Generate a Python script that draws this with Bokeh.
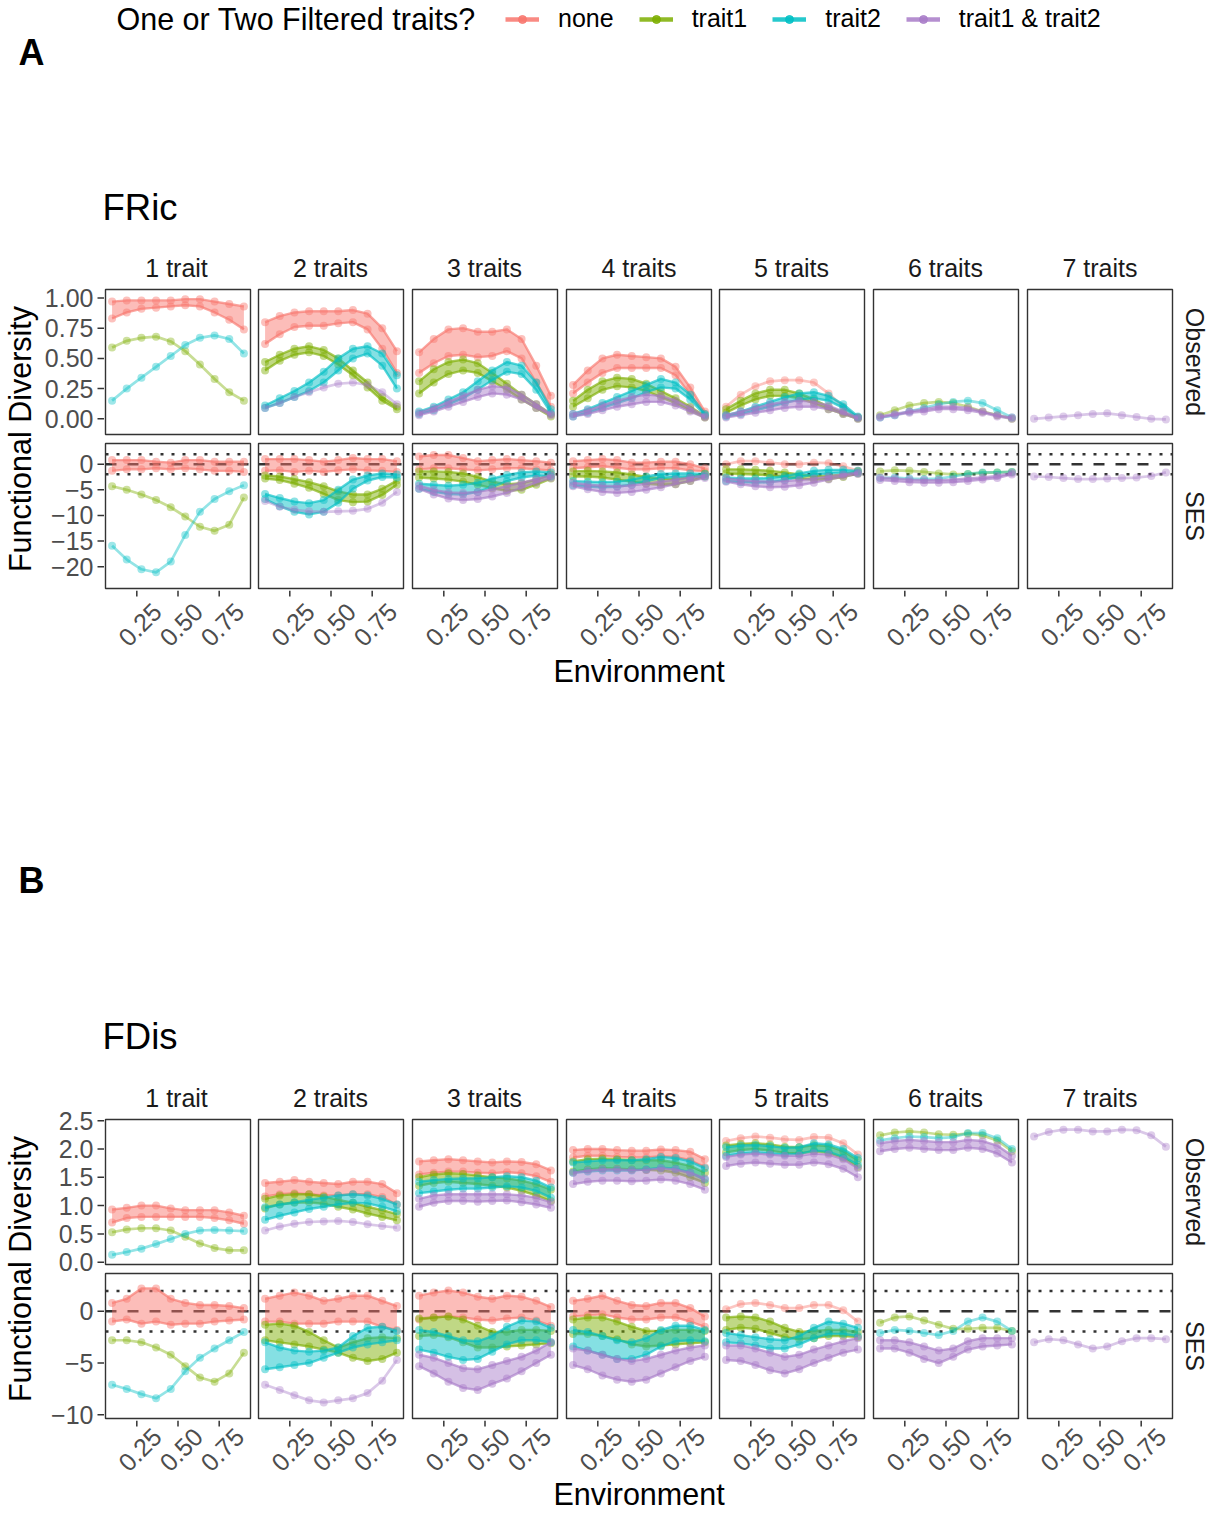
import math
from bokeh.plotting import figure
from bokeh.models import Range1d, Legend, LegendItem, Span
from bokeh.layouts import row, column
from bokeh.embed import file_html
from bokeh.resources import INLINE
from bokeh.core.properties import value

# ---------------------------------------------------------------- data
ENV = [0.100, 0.189, 0.278, 0.367, 0.456, 0.544, 0.633, 0.722, 0.811, 0.900]
N_TRAITS = [1, 2, 3, 4, 5, 6, 7]
FACET_LABELS = ["1 trait", "2 traits", "3 traits", "4 traits", "5 traits", "6 traits", "7 traits"]
GROUPS = ["none", "trait1", "trait2", "trait1 & trait2"]
GROUP_COLORS = ["#F8766D", "#7CAE00", "#00BFC4", "#A87BC8"]
ROW_LABELS = ["Observed", "SES"]
LEGEND_TITLE = "One or Two Filtered traits?"
PANEL_TAGS = ["A", "B"]
METRIC_TITLES = ["FRic", "FDis"]
X_TITLE = "Environment"
Y_TITLE = "Functional Diversity"
X_TICKS = [0.25, 0.5, 0.75]
X_TICK_LABELS = ["0.25", "0.50", "0.75"]
SES_REF_ZERO = [0.0]
SES_REF_BOUNDS = [-1.96, 1.96]
FRIC_OBS_TICKS = [0, 0.25, 0.5, 0.75, 1]
FRIC_OBS_TICK_LABELS = ["0.00", "0.25", "0.50", "0.75", "1.00"]
FRIC_SES_TICKS = [0, -5, -10, -15, -20]
FRIC_SES_TICK_LABELS = ["0", "\u22125", "\u221210", "\u221215", "\u221220"]
FDIS_OBS_TICKS = [0, 0.5, 1, 1.5, 2, 2.5]
FDIS_OBS_TICK_LABELS = ["0.0", "0.5", "1.0", "1.5", "2.0", "2.5"]
FDIS_SES_TICKS = [0, -5, -10]
FDIS_SES_TICK_LABELS = ["0", "\u22125", "\u221210"]
X_LIM = (0.06, 0.94)
FRIC_OBS_YLIM = (-0.13, 1.07)
FRIC_SES_YLIM = (-24.25, 4.04)
FDIS_OBS_YLIM = (-0.04, 2.52)
FDIS_SES_YLIM = (-10.35, 3.64)

# FRic, observed (LO = lower envelope / single line, HI = upper envelope)
FRIC_OBS_NONE_LO = {
    1: [0.83, 0.88, 0.91, 0.92, 0.93, 0.94, 0.93, 0.88, 0.82, 0.74],
    2: [0.62, 0.70, 0.76, 0.77, 0.77, 0.79, 0.80, 0.74, 0.58, 0.38],
    3: [0.38, 0.46, 0.52, 0.53, 0.51, 0.52, 0.56, 0.50, 0.30, 0.10],
    4: [0.21, 0.30, 0.38, 0.42, 0.42, 0.42, 0.42, 0.36, 0.20, 0.04],
    5: [0.10, 0.20, 0.27, 0.31, 0.32, 0.32, 0.30, 0.21, 0.10, 0.01],
}
FRIC_OBS_NONE_HI = {
    1: [0.97, 0.98, 0.98, 0.98, 0.98, 0.99, 0.99, 0.97, 0.95, 0.93],
    2: [0.80, 0.85, 0.88, 0.89, 0.89, 0.89, 0.90, 0.87, 0.75, 0.56],
    3: [0.55, 0.66, 0.74, 0.75, 0.72, 0.72, 0.74, 0.66, 0.44, 0.19],
    4: [0.28, 0.40, 0.50, 0.53, 0.52, 0.51, 0.50, 0.43, 0.26, 0.06],
}
FRIC_OBS_T1_LO = {
    1: [0.59, 0.645, 0.67, 0.68, 0.64, 0.56, 0.45, 0.33, 0.22, 0.15],
    2: [0.40, 0.48, 0.53, 0.55, 0.52, 0.45, 0.36, 0.26, 0.15, 0.08],
    3: [0.21, 0.30, 0.37, 0.40, 0.38, 0.31, 0.24, 0.16, 0.09, 0.02],
    4: [0.10, 0.17, 0.24, 0.27, 0.26, 0.23, 0.18, 0.13, 0.07, 0.01],
    5: [0.05, 0.11, 0.16, 0.19, 0.19, 0.17, 0.13, 0.08, 0.04, 0.00],
    6: [0.03, 0.07, 0.11, 0.13, 0.14, 0.13, 0.10, 0.06, 0.03, 0.00],
}
FRIC_OBS_T1_HI = {
    2: [0.47, 0.53, 0.58, 0.60, 0.57, 0.50, 0.40, 0.30, 0.18, 0.10],
    3: [0.31, 0.41, 0.47, 0.49, 0.46, 0.38, 0.29, 0.20, 0.12, 0.04],
    4: [0.15, 0.24, 0.31, 0.34, 0.33, 0.29, 0.23, 0.17, 0.10, 0.02],
    5: [0.08, 0.15, 0.21, 0.24, 0.24, 0.21, 0.16, 0.10, 0.05, 0.01],
}
FRIC_OBS_T2_LO = {
    1: [0.15, 0.25, 0.34, 0.43, 0.52, 0.61, 0.67, 0.69, 0.66, 0.54],
    2: [0.09, 0.13, 0.18, 0.23, 0.30, 0.40, 0.50, 0.54, 0.44, 0.25],
    3: [0.04, 0.07, 0.12, 0.17, 0.24, 0.32, 0.39, 0.37, 0.24, 0.05],
    4: [0.02, 0.05, 0.09, 0.13, 0.17, 0.22, 0.26, 0.25, 0.16, 0.03],
    5: [0.02, 0.04, 0.07, 0.10, 0.13, 0.16, 0.17, 0.15, 0.09, 0.01],
    6: [0.01, 0.03, 0.06, 0.09, 0.12, 0.14, 0.15, 0.13, 0.07, 0.01],
}
FRIC_OBS_T2_HI = {
    2: [0.11, 0.17, 0.23, 0.30, 0.39, 0.50, 0.58, 0.60, 0.54, 0.36],
    3: [0.06, 0.10, 0.16, 0.22, 0.31, 0.40, 0.47, 0.44, 0.30, 0.08],
    4: [0.04, 0.08, 0.13, 0.18, 0.23, 0.28, 0.33, 0.30, 0.20, 0.04],
    5: [0.03, 0.06, 0.10, 0.14, 0.18, 0.21, 0.22, 0.19, 0.12, 0.02],
}
FRIC_OBS_BOTH_LO = {
    2: [0.09, 0.13, 0.18, 0.22, 0.26, 0.29, 0.30, 0.28, 0.22, 0.12],
    3: [0.03, 0.06, 0.10, 0.14, 0.18, 0.21, 0.20, 0.16, 0.09, 0.03],
    4: [0.02, 0.04, 0.07, 0.10, 0.12, 0.14, 0.14, 0.11, 0.06, 0.01],
    5: [0.01, 0.03, 0.05, 0.07, 0.09, 0.10, 0.10, 0.08, 0.04, 0.00],
    6: [0.01, 0.03, 0.05, 0.06, 0.08, 0.08, 0.07, 0.05, 0.02, 0.00],
    7: [0.00, 0.01, 0.02, 0.03, 0.04, 0.045, 0.03, 0.015, 0.00, -0.005],
}
FRIC_OBS_BOTH_HI = {
    3: [0.05, 0.09, 0.14, 0.19, 0.24, 0.27, 0.26, 0.20, 0.12, 0.04],
    4: [0.04, 0.07, 0.11, 0.15, 0.18, 0.20, 0.19, 0.15, 0.09, 0.02],
    5: [0.03, 0.06, 0.09, 0.12, 0.14, 0.15, 0.14, 0.11, 0.06, 0.01],
    6: [0.02, 0.04, 0.06, 0.08, 0.10, 0.10, 0.09, 0.06, 0.03, 0.01],
}

# FRic, SES
FRIC_SES_NONE_LO = {
    1: [-1.3, -1.0, -1.0, -0.8, -1.0, -0.8, -1.0, -1.3, -1.3, -1.5],
    2: [-1.3, -1.2, -1.5, -1.3, -1.5, -1.2, -1.0, -1.2, -1.3, -1.5],
    3: [-1.0, -0.8, -0.8, -1.0, -1.2, -1.0, -0.8, -0.8, -1.0, -1.2],
    4: [-0.8, -0.6, -0.4, -0.7, -1.0, -1.0, -0.8, -0.8, -1.2, -1.4],
    5: [0.0, 0.6, 0.6, 0.3, 0.0, 0.0, 0.3, 0.2, -0.4, -1.3],
}
FRIC_SES_NONE_HI = {
    1: [0.8, 0.8, 0.8, 0.5, 0.3, 0.8, 0.8, 0.5, 0.5, 0.5],
    2: [1.0, 1.0, 1.0, 0.8, 0.5, 0.8, 1.2, 1.0, 1.0, 0.6],
    3: [1.5, 1.8, 1.8, 1.2, 0.6, 0.8, 1.0, 0.8, 0.6, 0.3],
    4: [0.6, 0.8, 1.0, 0.8, 0.3, 0.3, 0.5, 0.5, 0.0, -0.8],
}
FRIC_SES_T1_LO = {
    1: [-4.3, -5.0, -5.9, -7.0, -8.4, -10.2, -12.2, -13.0, -11.8, -6.5],
    2: [-2.8, -3.1, -3.8, -4.6, -5.8, -7.0, -7.4, -7.3, -6.0, -4.0],
    3: [-2.6, -2.8, -3.0, -3.4, -4.0, -4.7, -5.2, -5.0, -4.0, -2.8],
    4: [-2.4, -2.4, -2.6, -3.0, -3.4, -3.8, -4.0, -3.9, -3.3, -2.4],
    5: [-1.8, -1.9, -2.0, -2.2, -2.5, -2.8, -3.0, -2.9, -2.5, -1.8],
    6: [-1.4, -1.2, -1.3, -1.5, -1.8, -2.0, -1.9, -1.7, -1.6, -1.5],
}
FRIC_SES_T1_HI = {
    2: [-2.2, -2.4, -2.9, -3.5, -4.3, -5.3, -5.9, -5.9, -4.8, -3.2],
    3: [-1.4, -1.4, -1.5, -1.8, -2.5, -3.4, -3.9, -3.7, -3.0, -2.0],
    4: [-1.4, -1.3, -1.4, -1.6, -2.0, -2.5, -2.8, -2.9, -2.5, -1.8],
    5: [-1.0, -1.0, -1.1, -1.3, -1.6, -2.0, -2.3, -2.3, -2.0, -1.4],
}
FRIC_SES_T2_LO = {
    1: [-15.9, -18.6, -20.5, -21.1, -19.0, -13.8, -9.3, -6.8, -5.3, -4.1],
    2: [-6.8, -8.2, -9.3, -9.8, -9.3, -7.5, -4.8, -3.2, -2.5, -2.6],
    3: [-4.8, -5.4, -5.8, -5.9, -5.4, -4.4, -3.3, -2.6, -2.2, -2.4],
    4: [-4.1, -4.4, -4.5, -4.4, -4.0, -3.3, -2.7, -2.5, -2.4, -2.4],
    5: [-3.3, -3.5, -3.6, -3.5, -3.1, -2.5, -2.0, -1.8, -1.6, -1.7],
    6: [-2.7, -2.6, -2.8, -2.9, -2.8, -2.4, -1.9, -1.6, -1.6, -1.5],
}
FRIC_SES_T2_HI = {
    2: [-5.8, -6.6, -7.3, -7.6, -7.0, -5.0, -3.0, -2.2, -1.8, -2.0],
    3: [-3.8, -4.0, -4.2, -4.0, -3.6, -2.8, -2.1, -1.6, -1.4, -1.6],
    4: [-3.3, -3.4, -3.5, -3.4, -3.0, -2.4, -1.9, -1.8, -1.8, -1.9],
    5: [-2.6, -2.8, -2.8, -2.7, -2.3, -1.8, -1.3, -1.1, -1.1, -1.3],
}
FRIC_SES_BOTH_LO = {
    2: [-7.2, -8.3, -8.9, -9.2, -9.3, -9.2, -9.1, -8.7, -7.5, -5.4],
    3: [-4.8, -5.9, -6.7, -7.0, -6.8, -6.3, -5.6, -4.6, -3.6, -2.7],
    4: [-4.3, -4.9, -5.4, -5.6, -5.4, -5.0, -4.5, -3.9, -3.3, -2.7],
    5: [-3.4, -3.9, -4.3, -4.5, -4.4, -4.1, -3.6, -3.0, -2.4, -1.9],
    6: [-3.1, -3.3, -3.5, -3.6, -3.6, -3.5, -3.3, -3.0, -2.7, -2.0],
    7: [-2.4, -2.5, -2.7, -2.9, -2.9, -2.8, -2.7, -2.6, -2.3, -1.6],
}
FRIC_SES_BOTH_HI = {
    3: [-4.2, -5.0, -5.5, -5.6, -5.4, -4.9, -4.3, -3.6, -2.9, -2.2],
    4: [-3.6, -4.0, -4.2, -4.3, -4.1, -3.8, -3.4, -3.0, -2.6, -2.2],
    5: [-2.8, -3.1, -3.3, -3.4, -3.3, -3.1, -2.8, -2.4, -2.0, -1.6],
    6: [-2.6, -2.8, -3.0, -3.1, -3.1, -3.0, -2.8, -2.6, -2.3, -1.7],
}

# FDis, observed
FDIS_OBS_NONE_LO = {
    1: [0.70, 0.78, 0.80, 0.80, 0.80, 0.80, 0.80, 0.78, 0.74, 0.68],
    2: [1.16, 1.20, 1.22, 1.20, 1.18, 1.18, 1.20, 1.20, 1.15, 1.02],
    3: [1.55, 1.58, 1.60, 1.60, 1.58, 1.57, 1.59, 1.57, 1.52, 1.42],
    4: [1.85, 1.88, 1.88, 1.86, 1.85, 1.85, 1.87, 1.86, 1.80, 1.68],
    5: [2.14, 2.19, 2.22, 2.20, 2.17, 2.16, 2.21, 2.20, 2.10, 1.90],
}
FDIS_OBS_NONE_HI = {
    1: [0.93, 0.96, 1.00, 1.00, 0.95, 0.92, 0.92, 0.92, 0.88, 0.82],
    2: [1.40, 1.42, 1.45, 1.42, 1.40, 1.38, 1.42, 1.42, 1.38, 1.22],
    3: [1.78, 1.80, 1.82, 1.80, 1.78, 1.76, 1.78, 1.77, 1.73, 1.62],
    4: [1.98, 2.00, 2.00, 1.98, 1.97, 1.97, 1.99, 1.98, 1.95, 1.82],
}
FDIS_OBS_T1_LO = {
    1: [0.53, 0.58, 0.60, 0.60, 0.56, 0.45, 0.33, 0.25, 0.21, 0.21],
    2: [0.95, 1.02, 1.05, 1.06, 1.03, 0.98, 0.93, 0.86, 0.80, 0.74],
    3: [1.35, 1.40, 1.42, 1.40, 1.38, 1.35, 1.32, 1.26, 1.18, 1.08],
    4: [1.60, 1.64, 1.66, 1.65, 1.64, 1.63, 1.62, 1.58, 1.50, 1.40],
    5: [1.94, 1.98, 2.00, 1.97, 1.93, 1.92, 1.96, 1.93, 1.84, 1.68],
    6: [2.24, 2.29, 2.31, 2.29, 2.26, 2.25, 2.27, 2.24, 2.15, 1.96],
}
FDIS_OBS_T1_HI = {
    2: [1.12, 1.18, 1.20, 1.20, 1.16, 1.10, 1.05, 0.98, 0.92, 0.85],
    3: [1.50, 1.55, 1.57, 1.56, 1.53, 1.50, 1.48, 1.44, 1.38, 1.28],
    4: [1.78, 1.82, 1.83, 1.82, 1.80, 1.80, 1.80, 1.76, 1.70, 1.58],
    5: [2.06, 2.09, 2.10, 2.08, 2.04, 2.03, 2.07, 2.05, 1.96, 1.80],
}
FDIS_OBS_T2_LO = {
    1: [0.13, 0.18, 0.24, 0.32, 0.41, 0.50, 0.56, 0.57, 0.56, 0.55],
    2: [0.75, 0.82, 0.88, 0.94, 0.98, 1.02, 1.05, 1.04, 0.98, 0.90],
    3: [1.22, 1.25, 1.28, 1.30, 1.30, 1.32, 1.34, 1.32, 1.26, 1.14],
    4: [1.58, 1.60, 1.62, 1.62, 1.62, 1.64, 1.67, 1.65, 1.58, 1.46],
    5: [1.88, 1.92, 1.94, 1.92, 1.90, 1.91, 1.97, 1.95, 1.86, 1.72],
    6: [2.15, 2.19, 2.22, 2.21, 2.19, 2.21, 2.28, 2.28, 2.19, 2.00],
}
FDIS_OBS_T2_HI = {
    2: [0.97, 1.02, 1.06, 1.10, 1.14, 1.18, 1.20, 1.18, 1.12, 1.02],
    3: [1.42, 1.45, 1.47, 1.48, 1.48, 1.50, 1.52, 1.50, 1.44, 1.32],
    4: [1.76, 1.78, 1.80, 1.80, 1.80, 1.82, 1.86, 1.84, 1.78, 1.66],
    5: [2.03, 2.06, 2.07, 2.05, 2.02, 2.03, 2.10, 2.08, 2.00, 1.84],
}
FDIS_OBS_BOTH_LO = {
    2: [0.56, 0.63, 0.68, 0.71, 0.72, 0.73, 0.71, 0.67, 0.64, 0.61],
    3: [0.98, 1.05, 1.08, 1.08, 1.07, 1.08, 1.09, 1.06, 1.02, 0.96],
    4: [1.38, 1.42, 1.44, 1.44, 1.43, 1.44, 1.46, 1.44, 1.38, 1.28],
    5: [1.70, 1.74, 1.76, 1.74, 1.72, 1.72, 1.76, 1.73, 1.65, 1.50],
    6: [1.96, 2.00, 2.02, 2.00, 1.98, 1.98, 2.02, 2.00, 1.92, 1.76],
    7: [2.22, 2.30, 2.34, 2.34, 2.31, 2.31, 2.34, 2.33, 2.24, 2.04],
}
FDIS_OBS_BOTH_HI = {
    3: [1.12, 1.18, 1.20, 1.20, 1.20, 1.20, 1.20, 1.18, 1.14, 1.06],
    4: [1.58, 1.62, 1.64, 1.64, 1.63, 1.63, 1.66, 1.64, 1.58, 1.48],
    5: [1.86, 1.90, 1.92, 1.90, 1.88, 1.88, 1.92, 1.90, 1.82, 1.66],
    6: [2.10, 2.14, 2.16, 2.14, 2.12, 2.12, 2.16, 2.14, 2.06, 1.88],
}

# FDis, SES
FDIS_SES_NONE_LO = {
    1: [-1.0, -0.8, -1.2, -1.0, -1.3, -1.2, -1.2, -1.0, -0.9, -0.8],
    2: [-1.0, -1.0, -1.2, -1.2, -1.2, -1.0, -1.0, -1.0, -1.5, -1.8],
    3: [-0.8, -0.6, -0.5, -0.6, -0.8, -0.9, -0.7, -0.6, -0.9, -1.4],
    4: [-0.5, -0.4, -0.3, -0.6, -0.8, -0.8, -0.6, -0.6, -1.0, -1.5],
    5: [0.2, 0.7, 0.8, 0.6, 0.3, 0.3, 0.6, 0.6, 0.1, -1.0],
}
FDIS_SES_NONE_HI = {
    1: [0.8, 1.2, 2.2, 2.2, 1.2, 0.8, 0.6, 0.6, 0.5, 0.3],
    2: [1.2, 1.5, 1.8, 1.5, 1.0, 1.2, 1.5, 1.5, 1.0, 0.5],
    3: [1.5, 1.8, 2.0, 1.8, 1.4, 1.2, 1.5, 1.4, 1.0, 0.4],
    4: [1.0, 1.2, 1.5, 1.0, 0.6, 0.5, 0.8, 0.8, 0.3, -0.5],
}
FDIS_SES_T1_LO = {
    1: [-2.8, -2.8, -3.0, -3.5, -4.2, -5.3, -6.4, -6.8, -6.0, -4.0],
    2: [-2.8, -3.0, -3.2, -3.4, -3.7, -4.0, -4.5, -4.8, -4.6, -4.0],
    3: [-2.4, -2.3, -2.5, -3.0, -3.5, -3.5, -3.4, -3.3, -3.2, -3.1],
    4: [-2.2, -2.2, -2.4, -2.7, -3.2, -3.4, -3.3, -3.2, -3.1, -3.0],
    5: [-1.8, -1.6, -1.7, -2.1, -2.5, -2.7, -2.6, -2.4, -2.4, -2.5],
    6: [-1.1, -0.6, -0.5, -0.9, -1.3, -1.7, -1.7, -1.6, -1.6, -1.9],
}
FDIS_SES_T1_HI = {
    2: [-1.3, -1.2, -1.4, -2.0, -2.8, -3.5, -3.0, -2.6, -2.5, -2.6],
    3: [-0.7, -0.6, -0.5, -0.8, -1.4, -2.0, -2.0, -1.8, -1.8, -1.9],
    4: [-0.8, -0.6, -0.6, -1.0, -1.5, -1.9, -1.9, -1.8, -1.8, -1.9],
    5: [-0.6, -0.5, -0.6, -1.0, -1.6, -2.0, -1.9, -1.8, -1.8, -2.0],
}
FDIS_SES_T2_LO = {
    1: [-7.1, -7.5, -8.0, -8.4, -7.5, -5.8, -4.5, -3.6, -2.8, -2.0],
    2: [-5.6, -5.4, -5.2, -5.0, -4.5, -4.0, -3.5, -3.2, -3.0, -2.8],
    3: [-3.7, -4.0, -4.4, -4.7, -4.6, -3.9, -3.2, -2.8, -2.8, -3.0],
    4: [-3.4, -3.8, -4.2, -4.6, -4.6, -4.2, -3.4, -2.9, -2.8, -2.9],
    5: [-3.0, -3.1, -3.3, -3.6, -3.6, -3.2, -2.6, -2.2, -2.2, -2.4],
    6: [-2.1, -1.8, -1.9, -2.1, -2.3, -1.9, -1.0, -0.6, -1.0, -1.9],
}
FDIS_SES_T2_HI = {
    2: [-3.0, -3.5, -3.8, -3.9, -3.8, -3.5, -2.4, -1.6, -1.5, -1.9],
    3: [-1.8, -2.0, -2.4, -2.8, -2.9, -2.4, -1.5, -0.9, -1.0, -1.6],
    4: [-1.8, -2.0, -2.4, -2.8, -3.0, -2.6, -1.8, -1.4, -1.4, -1.8],
    5: [-2.1, -2.3, -2.5, -2.7, -2.8, -2.4, -1.6, -1.0, -1.2, -1.6],
}
FDIS_SES_BOTH_LO = {
    2: [-7.1, -7.6, -8.1, -8.6, -8.8, -8.6, -8.4, -7.9, -6.7, -4.7],
    3: [-5.3, -6.0, -6.8, -7.4, -7.6, -7.0, -6.5, -5.8, -5.0, -4.2],
    4: [-5.2, -5.6, -6.2, -6.6, -6.8, -6.6, -6.0, -5.4, -4.8, -4.4],
    5: [-4.7, -4.8, -5.2, -5.7, -6.0, -5.6, -5.0, -4.5, -4.0, -3.7],
    6: [-3.6, -3.6, -4.0, -4.6, -5.0, -4.4, -3.7, -3.4, -3.3, -3.2],
    7: [-3.0, -2.7, -2.8, -3.2, -3.6, -3.4, -2.9, -2.6, -2.6, -2.7],
}
FDIS_SES_BOTH_HI = {
    3: [-4.2, -4.5, -5.0, -5.5, -5.6, -5.2, -4.8, -4.4, -3.8, -3.0],
    4: [-3.6, -3.8, -4.2, -4.6, -4.8, -4.6, -4.2, -3.8, -3.5, -3.3],
    5: [-3.3, -3.3, -3.6, -4.0, -4.4, -4.2, -3.7, -3.3, -2.9, -2.6],
    6: [-2.8, -2.8, -3.0, -3.4, -3.8, -3.6, -2.9, -2.6, -2.6, -2.6],
}

# ------------------------------------------------------------- assembly
SERIES = {
    ("fric", "obs"): ([FRIC_OBS_NONE_LO, FRIC_OBS_T1_LO, FRIC_OBS_T2_LO, FRIC_OBS_BOTH_LO],
                      [FRIC_OBS_NONE_HI, FRIC_OBS_T1_HI, FRIC_OBS_T2_HI, FRIC_OBS_BOTH_HI]),
    ("fric", "ses"): ([FRIC_SES_NONE_LO, FRIC_SES_T1_LO, FRIC_SES_T2_LO, FRIC_SES_BOTH_LO],
                      [FRIC_SES_NONE_HI, FRIC_SES_T1_HI, FRIC_SES_T2_HI, FRIC_SES_BOTH_HI]),
    ("fdis", "obs"): ([FDIS_OBS_NONE_LO, FDIS_OBS_T1_LO, FDIS_OBS_T2_LO, FDIS_OBS_BOTH_LO],
                      [FDIS_OBS_NONE_HI, FDIS_OBS_T1_HI, FDIS_OBS_T2_HI, FDIS_OBS_BOTH_HI]),
    ("fdis", "ses"): ([FDIS_SES_NONE_LO, FDIS_SES_T1_LO, FDIS_SES_T2_LO, FDIS_SES_BOTH_LO],
                      [FDIS_SES_NONE_HI, FDIS_SES_T1_HI, FDIS_SES_T2_HI, FDIS_SES_BOTH_HI]),
}
YLIMS = {("fric", "obs"): FRIC_OBS_YLIM, ("fric", "ses"): FRIC_SES_YLIM,
         ("fdis", "obs"): FDIS_OBS_YLIM, ("fdis", "ses"): FDIS_SES_YLIM}
YTICKS = {("fric", "obs"): (FRIC_OBS_TICKS, FRIC_OBS_TICK_LABELS),
          ("fric", "ses"): (FRIC_SES_TICKS, FRIC_SES_TICK_LABELS),
          ("fdis", "obs"): (FDIS_OBS_TICKS, FDIS_OBS_TICK_LABELS),
          ("fdis", "ses"): (FDIS_SES_TICKS, FDIS_SES_TICK_LABELS)}

# ------------------------------------------------------------- layout
FONT = "Liberation Sans"
PANEL = 145
LEFT_B = [1, 4, 4, 4, 4, 4, 4]
RIGHT_B = [4, 5, 5, 4, 5, 5, 4]
AXIS_W = 104          # y title + y tick labels + ticks
STRIP_W = 34
STRIP_H = 35
OBS_H = 153           # 4 + 145 + 4
SES_H = 152           # 5 + 145 + 2
OBS_TOP = STRIP_H + 4                 # frame top of observed row inside a block
SES_TOP = STRIP_H + OBS_H + 5         # frame top of SES row inside a block
TOTAL_W = 1210
BORDER = "#333333"
TICK_COLOR = "#4D4D4D"
STRIP_COLOR = "#1A1A1A"


def plain(w, h):
    p = figure(width=w, height=h, x_range=Range1d(0, w), y_range=Range1d(h, 0),
               output_backend="svg", toolbar_location=None,
               x_axis_type=None, y_axis_type=None, min_border=0)
    p.outline_line_color = None
    p.background_fill_color = "white"
    p.border_fill_color = "white"
    return p


def txt(p, x, y, s, size, align="left", angle=0.0, bold=False, color="black"):
    p.text(x=[x], y=[y], text=[s], text_font=value(FONT),
           text_font_size=value(f"{size}px"), text_align=align,
           text_baseline="middle", angle=angle, text_color=color,
           text_font_style="bold" if bold else "normal")


def facet(metric, kind, idx, xr):
    k = N_TRAITS[idx]
    is_ses = kind == "ses"
    lb, rb = LEFT_B[idx], RIGHT_B[idx]
    p = figure(width=PANEL + lb + rb, height=SES_H if is_ses else OBS_H,
               x_range=xr, y_range=Range1d(*YLIMS[(metric, kind)]),
               output_backend="svg", toolbar_location=None,
               x_axis_type=None, y_axis_type=None,
               min_border_left=lb, min_border_right=rb,
               min_border_top=5 if is_ses else 4,
               min_border_bottom=2 if is_ses else 4)
    p.outline_line_color = BORDER
    p.outline_line_width = 1.4
    p.background_fill_color = "white"
    p.border_fill_color = "white"
    if is_ses:
        for v in SES_REF_BOUNDS:
            p.add_layout(Span(location=v, dimension="width", line_color=BORDER,
                              line_width=2.5, line_dash="3 8", level="underlay"))
        for v in SES_REF_ZERO:
            p.add_layout(Span(location=v, dimension="width", line_color=BORDER,
                              line_width=2.4, line_dash="11 11", level="underlay"))
    los, his = SERIES[(metric, kind)]
    for gi in range(len(GROUPS)):
        lo = los[gi].get(k)
        if lo is None:
            continue
        hi = his[gi].get(k)
        c = GROUP_COLORS[gi]
        if hi is not None:
            p.varea(x=ENV, y1=lo, y2=hi, fill_color=c, fill_alpha=0.48)
            p.line(ENV, lo, line_color=c, line_width=2.4, line_alpha=0.65)
            p.line(ENV, hi, line_color=c, line_width=2.4, line_alpha=0.65)
            p.scatter(ENV + ENV, lo + hi, size=8, fill_color=c, line_color=None, fill_alpha=0.45)
        else:
            p.line(ENV, lo, line_color=c, line_width=2.7, line_alpha=0.42)
            p.scatter(ENV, lo, size=8, fill_color=c, line_color=None, fill_alpha=0.38)
    return p


def tick_strip(idx, xr, h, label_y):
    lb, rb = LEFT_B[idx], RIGHT_B[idx]
    p = figure(width=PANEL + lb + rb, height=h, x_range=xr,
               y_range=Range1d(h, 0), output_backend="svg",
               toolbar_location=None, x_axis_type=None, y_axis_type=None,
               min_border_left=lb, min_border_right=rb, min_border_top=0,
               min_border_bottom=0)
    p.outline_line_color = None
    p.border_fill_color = "white"
    p.background_fill_color = "white"
    n = len(X_TICKS)
    p.segment(x0=X_TICKS, y0=[0] * n, x1=X_TICKS, y1=[6] * n,
              line_color=BORDER, line_width=1.5)
    p.text(x=X_TICKS, y=[label_y] * n, text=X_TICK_LABELS, angle=math.pi / 4,
           x_offset=3, text_align="center", text_baseline="middle",
           text_font=value(FONT), text_font_size=value("25px"), text_color=TICK_COLOR)
    return p


def strip_fig(idx):
    lb, rb = LEFT_B[idx], RIGHT_B[idx]
    p = plain(PANEL + lb + rb, STRIP_H)
    txt(p, lb + PANEL / 2, 17, FACET_LABELS[idx], 25, align="center", color=STRIP_COLOR)
    return p


def axis_fig(metric, h):
    """y title plus y ticks/labels of both rows, mapped through each row's own y scale."""
    p = plain(AXIS_W, h)
    ranges = {}
    for kind, top in (("obs", OBS_TOP), ("ses", SES_TOP)):
        lo, hi = YLIMS[(metric, kind)]
        u = (hi - lo) / PANEL
        ranges[kind] = Range1d(hi - (h - top) * u, hi + top * u)
    p.extra_y_ranges = ranges
    for kind in ("obs", "ses"):
        ticks, labels = YTICKS[(metric, kind)]
        n = len(ticks)
        p.segment(x0=[AXIS_W - 7] * n, y0=ticks, x1=[AXIS_W] * n, y1=ticks,
                  y_range_name=kind, line_color=BORDER, line_width=1.5)
        p.text(x=[AXIS_W - 11] * n, y=ticks, text=labels, y_range_name=kind,
               text_align="right", text_baseline="middle", text_font=value(FONT),
               text_font_size=value("25px"), text_color=TICK_COLOR)
    txt(p, 19, (OBS_TOP + SES_TOP + PANEL) / 2, Y_TITLE, 30.5, align="center", angle=math.pi / 2)
    return p


def block(metric, tick_h, label_y):
    h = STRIP_H + OBS_H + SES_H + tick_h
    cols = []
    for i in range(7):
        xr = Range1d(*X_LIM)
        cols.append(column(strip_fig(i), facet(metric, "obs", i, xr),
                           facet(metric, "ses", i, xr), tick_strip(i, xr, tick_h, label_y)))
    right = plain(STRIP_W, h)
    txt(right, 18, OBS_TOP + PANEL / 2, ROW_LABELS[0], 25, align="center",
        angle=-math.pi / 2, color=STRIP_COLOR)
    txt(right, 18, SES_TOP + PANEL / 2, ROW_LABELS[1], 25, align="center",
        angle=-math.pi / 2, color=STRIP_COLOR)
    return row(axis_fig(metric, h), *cols, right)


# header A : legend, tag, title
HDR_A_H = 250
hdr_a = plain(TOTAL_W, HDR_A_H)
txt(hdr_a, 116, 18, LEGEND_TITLE, 30.5)
items = []
for gi, g in enumerate(GROUPS):
    c = GROUP_COLORS[gi]
    rl = hdr_a.line(x=[-60, -50], y=[-60, -60], line_color=c, line_width=4.5, line_alpha=0.85)
    rp = hdr_a.scatter(x=[-55], y=[-60], size=9, fill_color=c, line_color=c, alpha=0.85)
    items.append(LegendItem(label=g, renderers=[rl, rp]))
legend = Legend(items=items, location=(505, HDR_A_H - 33), orientation="horizontal",
                label_text_font=FONT, label_text_font_size="25px",
                label_text_color="black", glyph_width=34, glyph_height=20,
                label_standoff=19, spacing=25, padding=0, margin=0,
                border_line_color=None, background_fill_alpha=0)
hdr_a.add_layout(legend)
txt(hdr_a, 18, 52, PANEL_TAGS[0], 36, bold=True)
txt(hdr_a, 102, 207, METRIC_TITLES[0], 36.5)

body_a = block("fric", 62, 34)
xt_a = plain(TOTAL_W, 48)
txt(xt_a, 638.5, 18, X_TITLE, 30.5, align="center")

HDR_B_H = 380
hdr_b = plain(TOTAL_W, HDR_B_H)
txt(hdr_b, 18, 180, PANEL_TAGS[1], 36, bold=True)
txt(hdr_b, 102, 336, METRIC_TITLES[1], 36.5)

body_b = block("fdis", 56, 29)
xt_b = plain(TOTAL_W, 35)
txt(xt_b, 638.5, 17.5, X_TITLE, 30.5, align="center")

layout = column(hdr_a, body_a, xt_a, hdr_b, body_b, xt_b)

with open("out.html", "w") as f:
    f.write(file_html(layout, INLINE, title="Functional diversity"))
